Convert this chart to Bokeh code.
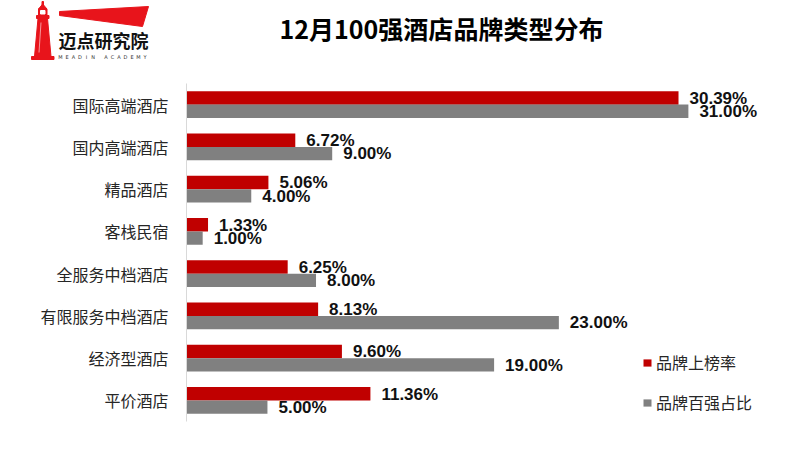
import numpy as np
from bokeh.plotting import figure
from bokeh.models import ColumnDataSource, Range1d, FactorRange, Legend, LegendItem
from bokeh.transform import dodge
from bokeh.layouts import column
from bokeh.core.properties import value
from bokeh.embed import file_html
from bokeh.resources import INLINE

# ---------------- data ----------------
categories = ["国际高端酒店", "国内高端酒店", "精品酒店", "客栈民宿",
              "全服务中档酒店", "有限服务中档酒店", "经济型酒店", "平价酒店"]
rank_rate = [30.39, 6.72, 5.06, 1.33, 6.25, 8.13, 9.60, 11.36]      # 品牌上榜率 (%)
top100_share = [31.00, 9.00, 4.00, 1.00, 8.00, 23.00, 19.00, 5.00]   # 品牌百强占比 (%)
series_names = ["品牌上榜率", "品牌百强占比"]
title_text = "12月100强酒店品牌类型分布"

RED = "#C00000"
GRAY = "#808080"
CJK = "Noto Sans CJK SC"

source = ColumnDataSource(dict(
    cat=categories,
    rate=rank_rate,
    share=top100_share,
    rate_lbl=[f"{v:.2f}%" for v in rank_rate],
    share_lbl=[f"{v:.2f}%" for v in top100_share],
))

# ---------------- header (logo + title) ----------------
h = figure(width=800, height=75, x_range=Range1d(0, 800), y_range=Range1d(75, 0),
           toolbar_location=None, output_backend="svg", min_border=0)
h.frame_align = False
h.axis.visible = False
h.grid.visible = False
h.outline_line_color = None

LOGO_RED = "#E8141B"
# lighthouse
h.patch([41.5, 43, 43, 41.5], [1, 1, 5, 5], color=LOGO_RED)
h.patch([38, 42.2, 46.5], [8.5, 3.5, 8.5], color=LOGO_RED)
h.patch([38, 46.5, 46.5, 38], [8.5, 8.5, 15, 15], color=LOGO_RED)
h.patch([40, 44.5, 44.5, 40], [10, 10, 13.5, 13.5], color="white")
h.patch([36, 48.5, 48.5, 36], [15, 15, 18, 18], color=LOGO_RED)
h.patch([37.5, 47, 50.5, 34], [18, 18, 56, 56], color=LOGO_RED)
h.patch([31, 53.5, 53.5, 31], [56, 56, 59, 59], color=LOGO_RED)
h.line([40.5, 38.5], [22, 52], line_color="white", line_width=0.8, line_alpha=0.7)
# beam
h.patch([59, 148, 142, 59], [11, 6, 26, 15], color=LOGO_RED)
# logo text
h.text(x=[58], y=[39], text=["迈点研究院"], text_font=value(CJK), text_font_style="bold",
       text_font_size="18px", text_color="#111111", text_baseline="middle", text_align="left")
letters = list("MEADIN ACADEMY")
lx = 60 + np.arange(len(letters)) * 6.5
h.text(x=lx, y=[56.5] * len(letters), text=letters, text_font=value("DejaVu Sans"),
       text_font_size="5px", text_color="#333333", text_baseline="middle", text_align="center")
# title
h.text(x=[441], y=[27], text=[title_text], text_font=value(CJK), text_font_style="bold",
       text_font_size="25px", text_color="#000000", text_baseline="middle", text_align="center")

# ---------------- main chart ----------------
p = figure(width=800, height=395,
           y_range=FactorRange(*reversed(categories)),
           x_range=Range1d(0, 37.06),
           toolbar_location=None, output_backend="svg",
           min_border_left=186, min_border_right=14,
           min_border_top=8, min_border_bottom=49)
p.frame_align = False
p.outline_line_color = None
p.grid.visible = False
p.xaxis.visible = False
p.yaxis.axis_line_color = "#d9d9d9"
p.yaxis.axis_line_width = 1
p.yaxis.major_tick_line_color = None
p.yaxis.minor_tick_line_color = None
p.yaxis.major_label_standoff = 12
p.yaxis.major_label_text_font = CJK
p.yaxis.major_label_text_font_size = "16px"
p.yaxis.major_label_text_color = "#262626"

OFF = 0.1575
BH = 0.315
r1 = p.hbar(y=dodge("cat", OFF, range=p.y_range), left=0, right="rate", height=BH,
            source=source, fill_color=RED, line_color=None)
r2 = p.hbar(y=dodge("cat", -OFF, range=p.y_range), left=0, right="share", height=BH,
            source=source, fill_color=GRAY, line_color=None)

LBL_FONT = value("Liberation Sans")
p.text(x="rate", y=dodge("cat", OFF - 0.01, range=p.y_range), text="rate_lbl", source=source,
       x_offset=11, text_font=LBL_FONT, text_font_style="bold", text_font_size="17px",
       text_color="#111111", text_baseline="middle", text_align="left")
p.text(x="share", y=dodge("cat", -OFF - 0.01, range=p.y_range), text="share_lbl", source=source,
       x_offset=11, text_font=LBL_FONT, text_font_style="bold", text_font_size="17px",
       text_color="#111111", text_baseline="middle", text_align="left")

legend = Legend(items=[LegendItem(label=series_names[0], renderers=[r1]),
                       LegendItem(label=series_names[1], renderers=[r2])],
                location=(456, 7), orientation="vertical",
                glyph_width=10, glyph_height=9, label_standoff=4,
                label_height=20, spacing=16, padding=0, margin=0,
                label_text_font=CJK, label_text_font_size="16px",
                label_text_color="#262626",
                border_line_color=None, background_fill_alpha=0)
p.add_layout(legend)

layout = column(h, p, spacing=0)
open("out.html", "w").write(file_html(layout, INLINE))
